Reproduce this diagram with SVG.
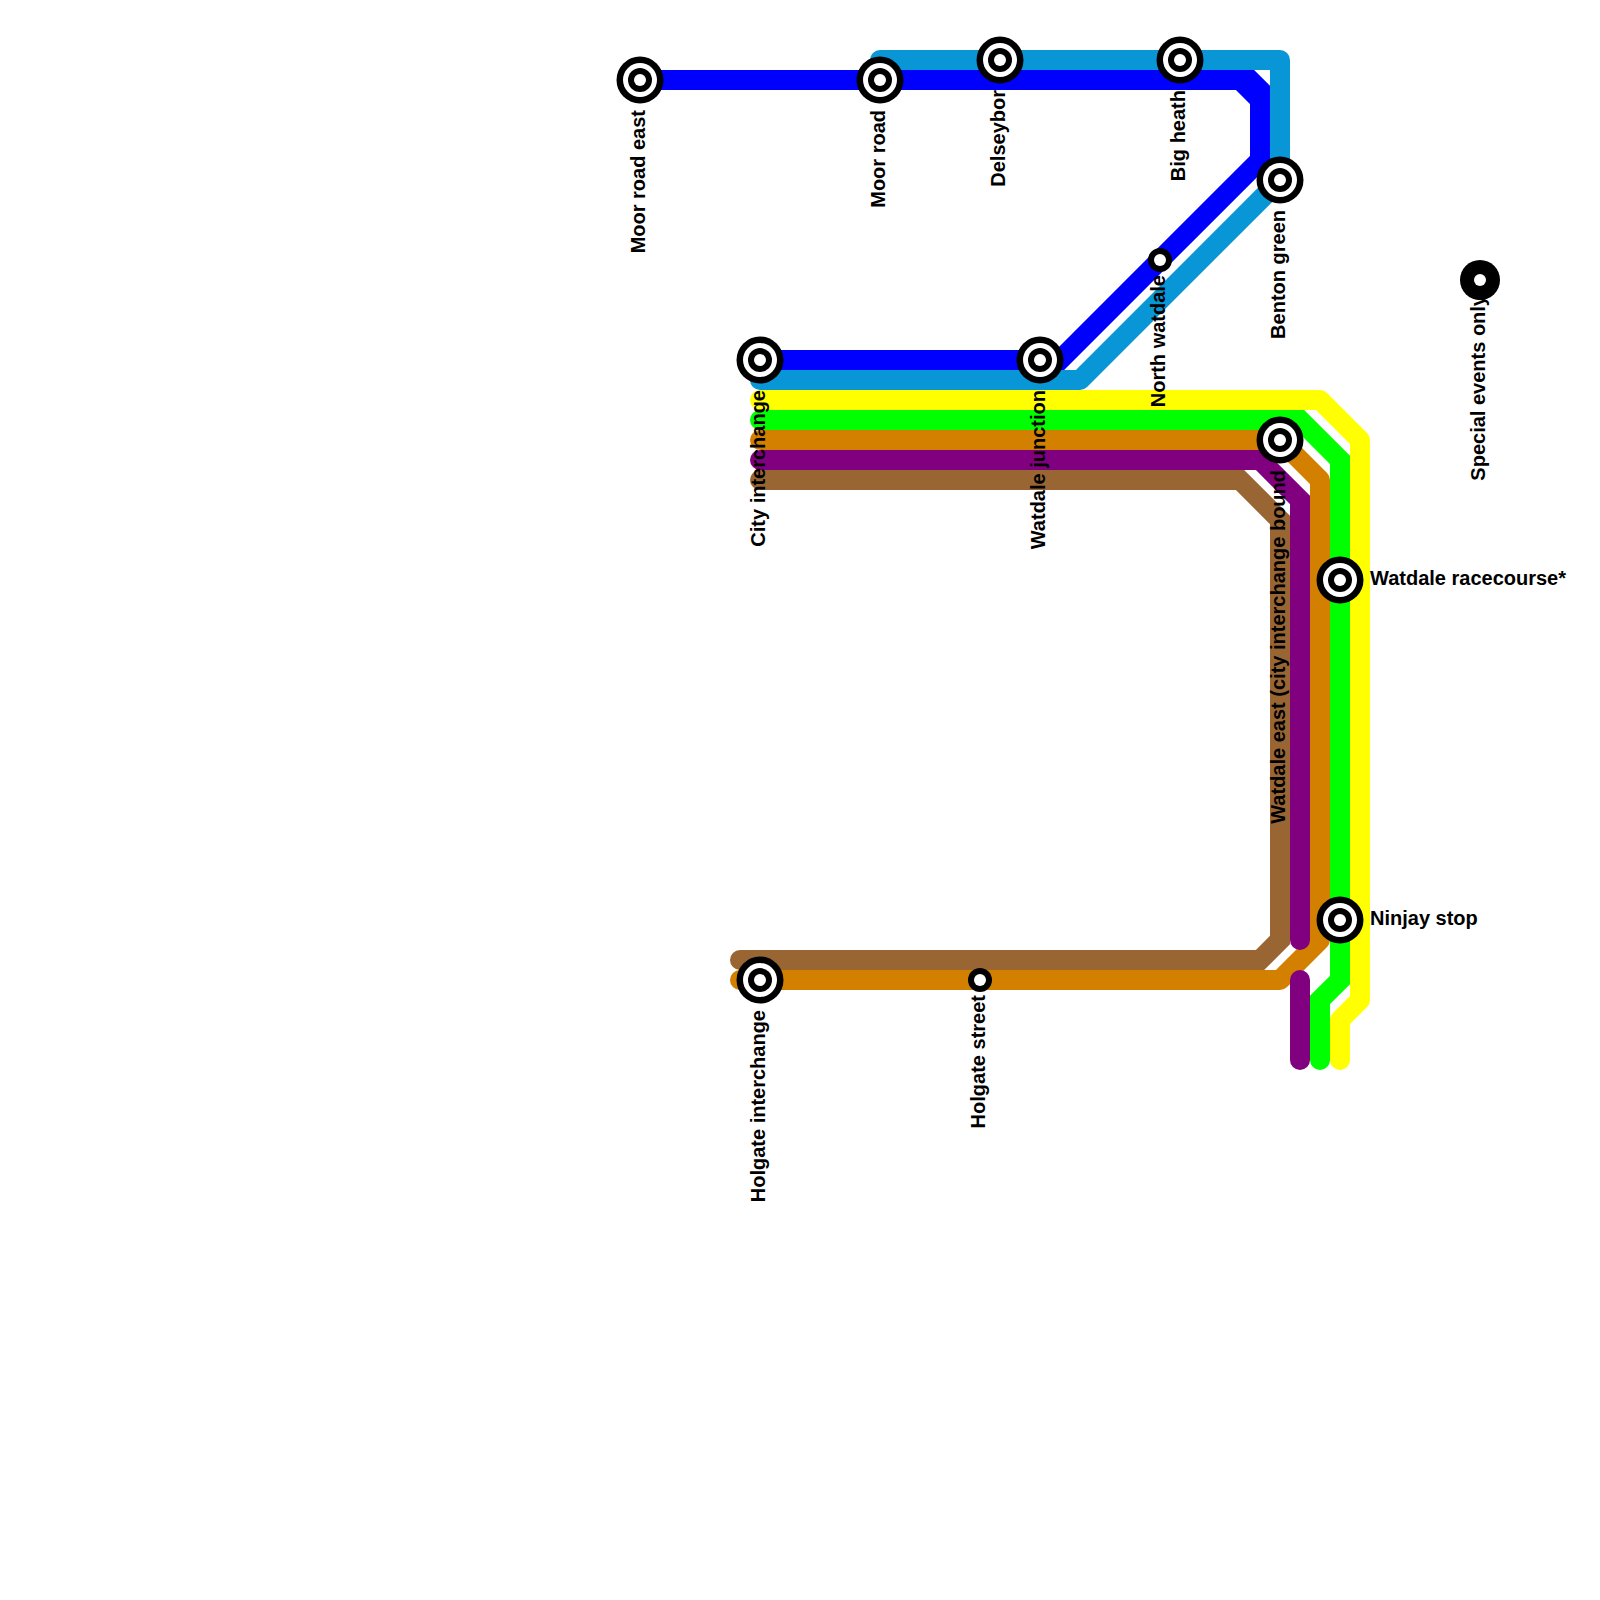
<svg xmlns="http://www.w3.org/2000/svg" width="1600" height="1600" viewBox="0 0 1600 1600">
<style>
.l{fill:none;stroke-width:20;stroke-linecap:round;stroke-linejoin:miter}
.r{stroke-linejoin:round}
.t{font-family:"Liberation Sans",Arial,sans-serif;font-size:20px;font-weight:bold;fill:#000}
.v{text-anchor:end}
.k{fill:#000}.w{fill:#fff}
</style>
<defs>
<g id="big"><circle r="23.5" class="k"/><circle r="17" class="w"/><circle r="12" class="k"/><circle r="6" class="w"/></g>
<g id="small"><circle r="12" class="k"/><circle r="6" class="w"/></g>
<g id="term"><circle r="20" class="k"/><circle r="6" class="w"/></g>
</defs>
<rect width="1600" height="1600" fill="#fff"/>
<g id="connectors">
<path class="l r" stroke="#0896d7" d="M880 60H1280V180L1080 380H760"/>
<path class="l" stroke="#0000ff" d="M640 80H1250L1260 90V160L1060 360H760M1240 80L1260 100"/>
<path class="l r" stroke="#ffff00" d="M760 400H1320L1360 440V1000L1340 1020V1060"/>
<path class="l" stroke="#00ff00" d="M760 420H1300L1340 460V980L1320 1000V1060"/>
<path class="l r" stroke="#d38000" d="M760 440H1280L1320 480V940L1280 980H740"/>
<path class="l" stroke="#996633" d="M760 480H1240L1280 520V940L1260 960H740"/>
<path class="l" stroke="#800080" d="M760 460H1260L1300 500V940"/>
<path class="l" stroke="#800080" d="M1300 980V1060"/>
</g>
<g id="moor-road-east"><use href="#big" x="640" y="80"/><text class="t v" transform="translate(645 110) rotate(-90)">Moor road east</text></g>
<g id="moor-road"><use href="#big" x="880" y="80"/><text class="t v" transform="translate(885 110) rotate(-90)">Moor road</text></g>
<g id="delseybor"><use href="#big" x="1000" y="60"/><text class="t v" transform="translate(1005 90) rotate(-90)">Delseybor</text></g>
<g id="big-heath"><use href="#big" x="1180" y="60"/><text class="t v" transform="translate(1185 90) rotate(-90)">Big heath</text></g>
<g id="benton-green"><use href="#big" x="1280" y="180"/><text class="t v" transform="translate(1285 210) rotate(-90)">Benton green</text></g>
<g id="north-watdale"><use href="#small" x="1160" y="260"/><text class="t v" transform="translate(1165 275) rotate(-90)">North watdale</text></g>
<g id="special-events-only"><use href="#term" x="1480" y="280"/><text class="t v" transform="translate(1485 295) rotate(-90)">Special events only</text></g>
<g id="city-interchange"><use href="#big" x="760" y="360"/><text class="t v" transform="translate(765 390) rotate(-90)">City interchange</text></g>
<g id="watdale-junction"><use href="#big" x="1040" y="360"/><text class="t v" transform="translate(1045 390) rotate(-90)">Watdale junction</text></g>
<g id="watdale-east"><use href="#big" x="1280" y="440"/><text class="t v" transform="translate(1285 470) rotate(-90)">Watdale east (city interchange bound</text></g>
<g id="watdale-racecourse"><use href="#big" x="1340" y="580"/><text class="t" x="1370" y="585">Watdale racecourse*</text></g>
<g id="ninjay-stop"><use href="#big" x="1340" y="920"/><text class="t" x="1370" y="925">Ninjay stop</text></g>
<g id="holgate-interchange"><use href="#big" x="760" y="980"/><text class="t v" transform="translate(765 1010) rotate(-90)">Holgate interchange</text></g>
<g id="holgate-street"><use href="#small" x="980" y="980"/><text class="t v" transform="translate(985 995) rotate(-90)">Holgate street</text></g>
</svg>
